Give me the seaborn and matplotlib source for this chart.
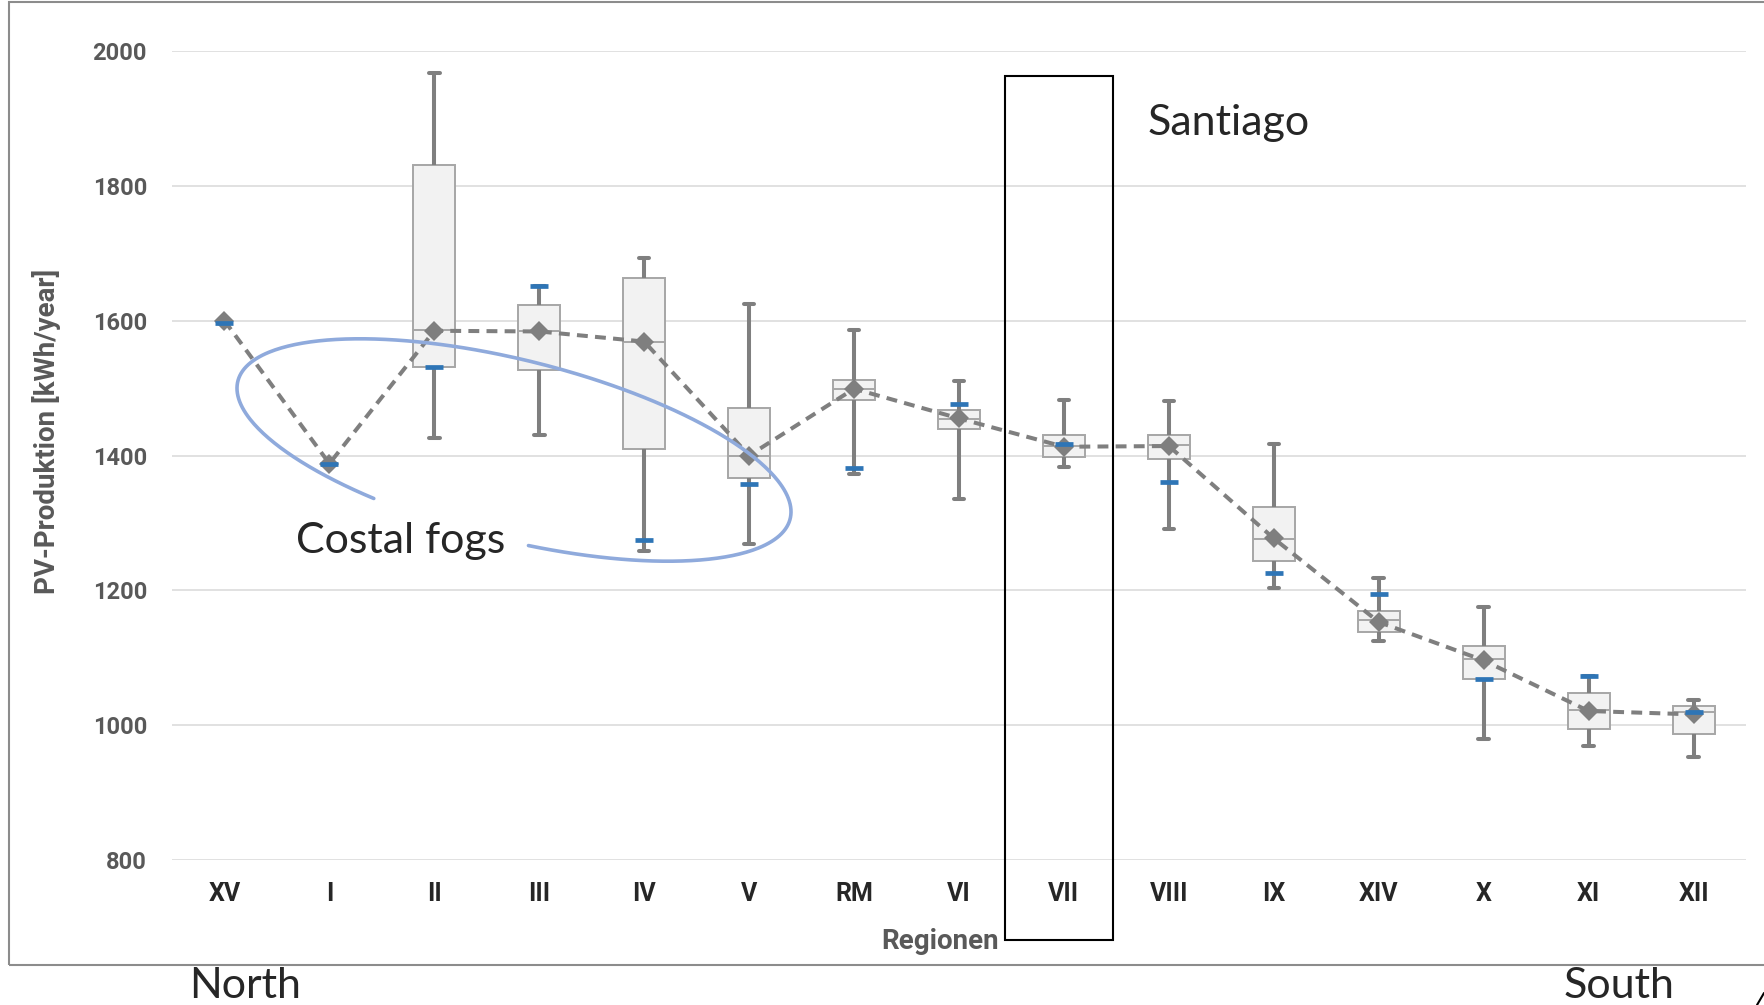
import numpy as np
import pandas as pd
import matplotlib
matplotlib.use("Agg")
import matplotlib.pyplot as plt
from matplotlib.patches import Rectangle
from matplotlib.lines import Line2D
import seaborn as sns

# ---------------- data ----------------
regions = ["XV", "I", "II", "III", "IV", "V", "RM", "VI", "VII",
           "VIII", "IX", "XIV", "X", "XI", "XII"]
whisker_low = [1597, 1387, 1426, 1430, 1258, 1268, 1373, 1336, 1383,
               1291, 1204, 1125, 980, 969, 953]
q1 = [1597, 1387, 1532, 1527, 1409, 1367, 1482, 1440, 1398,
      1395, 1244, 1138, 1069, 995, 987]
median = [1597, 1387, 1586, 1585, 1569, 1400, 1498, 1454, 1414,
          1416, 1276, 1156, 1098, 1022, 1020]
q3 = [1597, 1387, 1831, 1623, 1664, 1471, 1512, 1468, 1431,
      1431, 1323, 1170, 1118, 1047, 1028]
whisker_high = [1597, 1387, 1968, 1651, 1693, 1625, 1586, 1510, 1483,
                1481, 1417, 1218, 1175, 1073, 1038]
mean_vals = [1600, 1388, 1585, 1584, 1569, 1400, 1499, 1455, 1413,
             1414, 1277, 1153, 1096, 1021, 1016]
site_vals = [1597, 1387, 1531, 1651, 1275, 1358, 1381, 1476, 1417,
             1360, 1225, 1194, 1069, 1073, 1019]
y_ticks = [800, 1000, 1200, 1400, 1600, 1800, 2000]

# ---------------- figure ----------------
W, H = 1764, 1005
sns.set_theme(style="white")
plt.rcParams["font.family"] = ["Lato", "DejaVu Sans"]
BOLD_FAMILY = ["Roboto", "DejaVu Sans"]

fig = plt.figure(figsize=(W / 100, H / 100), dpi=100)
fig.patch.set_facecolor("white")


def fx(px):
    return px / W


def fy(py):
    return 1 - py / H


ax = fig.add_axes([fx(172), fy(860), (1746 - 172) / W, (860 - 51) / H])

# five-number summary as long-form data (regions with a spread only)
rows = []
for r, lo, a, m, b, hi in zip(regions, whisker_low, q1, median, q3, whisker_high):
    if hi > lo:
        for v in (lo, a, m, b, hi):
            rows.append({"Region": r, "value": v})
box_df = pd.DataFrame(rows)
n_boxes = box_df["Region"].nunique()

GRAY = "#7f7f7f"
sns.boxplot(
    data=box_df, x="Region", y="value", order=regions, ax=ax,
    whis=(0, 100), width=0.4, color="#f2f2f2", saturation=1,
    linecolor="#a6a6a6", showfliers=False,
    boxprops=dict(facecolor="#f2f2f2", edgecolor="#a6a6a6", linewidth=1.4),
    medianprops=dict(color="#a6a6a6", linewidth=1.4),
    whiskerprops=dict(color=GRAY, linewidth=2.9),
    capprops=dict(color=GRAY, linewidth=2.9),
    capwidths=np.full(n_boxes, 0.1),
    zorder=2,
)

# mean values connected by dashed line
sns.pointplot(
    x=regions, y=mean_vals, order=regions, ax=ax, errorbar=None,
    color=GRAY, marker="D", linestyle=(0, (2.7, 1.8)),
    linewidth=2.9, markersize=10, markeredgewidth=0, zorder=4,
)

# single site values (blue dashes)
sns.pointplot(
    x=regions, y=site_vals, order=regions, ax=ax, errorbar=None,
    color="#2e75b6", marker="_", linestyle="none",
    markersize=13, markeredgewidth=3.4, zorder=5,
)

ax.set_xlim(-0.5, len(regions) - 0.5)
ax.set_ylim(800, 2000)
ax.set_xticks(range(len(regions)), labels=regions, fontweight="bold",
              family=BOLD_FAMILY, fontsize=18, color="#262626")
ax.set_yticks(y_ticks, labels=[str(t) for t in y_ticks], fontweight="bold",
              family=BOLD_FAMILY, fontsize=17, color="#595959")
for s in ax.spines.values():
    s.set_visible(False)
ax.grid(axis="y", color="#d9d9d9", linewidth=1.1)
ax.grid(axis="x", visible=False)
ax.set_axisbelow(True)

ax.tick_params(axis="y", length=0, pad=18)
ax.tick_params(axis="x", length=0, pad=16)

ax.set_xlabel("Regionen", fontsize=20, fontweight="bold", color="#595959",
              va="center", family=BOLD_FAMILY)
ax.xaxis.set_label_coords((940 - 172) / 1574, (860 - 941) / 809)
ax.set_ylabel("PV-Produktion [kWh/year]", fontsize=20, fontweight="bold",
              color="#595959", va="center", ha="center", family=BOLD_FAMILY)
ax.yaxis.set_label_coords((47 - 172) / 1574, (860 - 431) / 809)

# ---------------- annotations ----------------
# chart border (right side runs off the picture)
fig.add_artist(Rectangle((fx(9), fy(965)), fx(1800) - fx(9), fy(2) - fy(965),
                         fill=False, edgecolor="#8c8c8c", linewidth=1.5,
                         transform=fig.transFigure))

# Santiago frame
fig.add_artist(Rectangle((fx(1005), fy(940)), fx(1112.5) - fx(1005),
                         fy(76.5) - fy(940), fill=False, edgecolor="black",
                         linewidth=1.5, transform=fig.transFigure, zorder=6))

# hand-drawn loop around the coastal-fog regions
cx, cy, A, B, ang = 514.0, 450.0, 284.6, 90.0, np.deg2rad(14)
t = np.deg2rad(np.linspace(115.9, 442.5, 400))
lx = cx + A * np.cos(t) * np.cos(ang) - B * np.sin(t) * np.sin(ang)
ly = cy + A * np.cos(t) * np.sin(ang) + B * np.sin(t) * np.cos(ang)
fig.add_artist(Line2D(fx(lx), fy(ly), color="#8faadc", linewidth=2.6,
                      transform=fig.transFigure, zorder=6))

# small stroke at the bottom-right corner
fig.add_artist(Line2D([fx(1757), fx(1764)], [fy(1005), fy(993)],
                      color="black", linewidth=1.5, transform=fig.transFigure))

fig.text(fx(1148), fy(135), "Santiago", fontsize=31, ha="left", va="baseline")
fig.text(fx(296), fy(553), "Costal fogs", fontsize=31, ha="left", va="baseline")
fig.text(fx(245), fy(998), "North", fontsize=31, ha="center", va="baseline")
fig.text(fx(1619), fy(998), "South", fontsize=31, ha="center", va="baseline")

fig.savefig("out.png", dpi=100)
